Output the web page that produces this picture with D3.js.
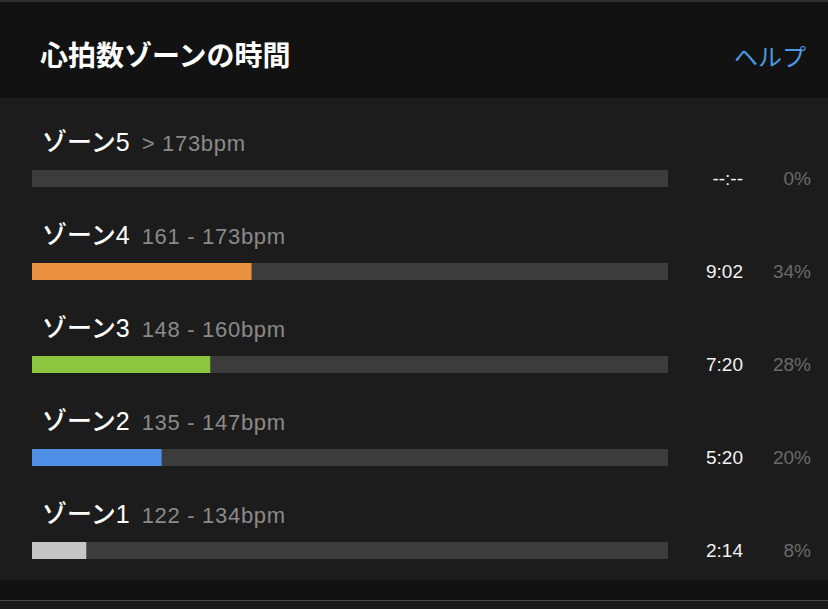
<!DOCTYPE html>
<html><head><meta charset="utf-8">
<script src="https://cdn.jsdelivr.net/npm/d3@7"></script>
<style>
html,body{margin:0;padding:0;background:#1a1a1a;}
svg{display:block;}
</style></head>
<body>
<svg id="c" width="828" height="609"></svg>
<script>
const title = "心拍数ゾーンの時間";
const helpLabel = "ヘルプ";
const zones = ["ゾーン5", "ゾーン4", "ゾーン3", "ゾーン2", "ゾーン1"];
const ranges = ["> 173bpm", "161 - 173bpm", "148 - 160bpm", "135 - 147bpm", "122 - 134bpm"];
const seconds = [0, 542, 440, 320, 134];
const timeLabels = ["--:--", "9:02", "7:20", "5:20", "2:14"];
const percentLabels = ["0%", "34%", "28%", "20%", "8%"];
const colors = ["#3c3c3c", "#e98f40", "#8cc63f", "#4f8fe8", "#c6c6c6"];
const totalSeconds = 1570;

const W = 828, H = 609;
const svg = d3.select("#c");
const latin = "'Liberation Sans', 'Noto Sans CJK JP', sans-serif";
const cjk = "'Noto Sans CJK JP', 'Liberation Sans', sans-serif";

// backgrounds
svg.append("rect").attr("x",0).attr("y",0).attr("width",W).attr("height",H).attr("fill","#1a1a1a");
svg.append("rect").attr("x",0).attr("y",0).attr("width",W).attr("height",2).attr("fill","#2e2e2e");
svg.append("rect").attr("x",0).attr("y",2).attr("width",W).attr("height",96).attr("fill","#121212");
svg.append("rect").attr("x",0).attr("y",98).attr("width",W).attr("height",482).attr("fill","#1c1c1c");
svg.append("rect").attr("x",0).attr("y",580).attr("width",W).attr("height",20).attr("fill","#121212");
svg.append("rect").attr("x",0).attr("y",600).attr("width",W).attr("height",1).attr("fill","#4a4a4a");

// header
svg.append("text").attr("x",40).attr("y",66).text(title)
  .attr("fill","#ffffff").attr("font-family",cjk).attr("font-weight","bold").attr("font-size",28);
svg.append("text").attr("x",806).attr("y",66).attr("text-anchor","end").text(helpLabel)
  .attr("fill","#4a9be0").attr("font-family",cjk).attr("font-size",24);

const y = d3.scaleBand().domain(zones).range([115, 580]);
const x = d3.scaleLinear().domain([0, totalSeconds]).range([32, 668]);

const rows = svg.selectAll("g.row").data(zones.map((z,i)=>({z,i}))).join("g").attr("class","row")
  .attr("transform", d => `translate(0,${y(d.z)})`);

const lbl = rows.append("text").attr("x",42).attr("y",36);
lbl.append("tspan").text(d=>d.z).attr("fill","#ffffff").attr("font-family",latin).attr("font-size",25).attr("font-weight",500);
lbl.append("tspan").attr("dx",12).text(d=>ranges[d.i]).attr("fill","#8a8a8a")
  .attr("font-family",latin).attr("font-size",22).attr("letter-spacing",0.7);

rows.append("rect").attr("x",x(0)).attr("y",55).attr("width",x(totalSeconds)-x(0)).attr("height",17).attr("fill","#3c3c3c");
rows.append("rect").attr("x",x(0)).attr("y",55).attr("width",d=>x(seconds[d.i])-x(0)).attr("height",17).attr("fill",d=>colors[d.i]);

rows.append("text").attr("x",743).attr("y",70).attr("text-anchor","end").text(d=>timeLabels[d.i])
  .attr("fill","#f2f2f2").attr("font-family",latin).attr("font-size",19);
rows.append("text").attr("x",811).attr("y",70).attr("text-anchor","end").text(d=>percentLabels[d.i])
  .attr("fill","#6a6a6a").attr("font-family",latin).attr("font-size",19);
</script>
</body></html>
